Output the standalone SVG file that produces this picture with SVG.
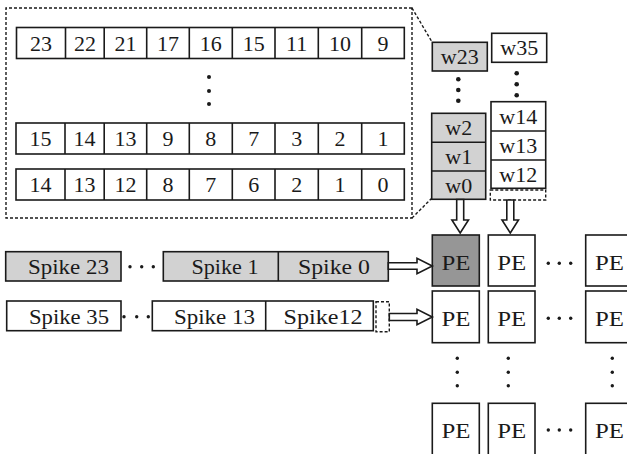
<svg xmlns="http://www.w3.org/2000/svg" width="627" height="454" viewBox="0 0 627 454" font-family="'Liberation Serif', 'DejaVu Serif', serif">
  <style>
    .box { stroke: #1a1a1a; stroke-width: 1.6; }
    .white { fill: #ffffff; }
    .light { fill: #d2d2d2; }
    .dark { fill: #969696; }
    .dash { fill: none; stroke: #1a1a1a; stroke-width: 1.4; stroke-dasharray: 3 2; }
    .div { stroke: #1a1a1a; stroke-width: 1.6; }
    .t { font-family: 'Liberation Serif', 'DejaVu Serif', serif; font-size: 22px; fill: #1a1a1a; text-anchor: middle; }
    .dot { fill: #1a1a1a; }
    .arrow { fill: #ffffff; stroke: #1a1a1a; stroke-width: 1.6; stroke-linejoin: miter; }
  </style>

  <!-- memory block holding the spike index rows -->
  <g id="memory">
    <path class="dash" d="M412,8 L6,8 L6,218 L412,218 Z"/>
    <path class="dash" d="M412,8 L432,42 M412,218 L432,198"/>
  </g>

  <g id="row-top">
    <rect class="box white" x="16.5" y="27.5" width="387.8" height="31"/>
    <path class="div" d="M65.5,27.5V58.5 M104.2,27.5V58.5 M146.7,27.5V58.5 M189.3,27.5V58.5 M232.3,27.5V58.5 M275,27.5V58.5 M318.3,27.5V58.5 M361.7,27.5V58.5"/>
    <text class="t" y="50.5"><tspan x="41">23</tspan><tspan x="84.9">22</tspan><tspan x="125.5">21</tspan><tspan x="168">17</tspan><tspan x="210.8">16</tspan><tspan x="253.7">15</tspan><tspan x="296.7">11</tspan><tspan x="340">10</tspan><tspan x="383">9</tspan></text>
  </g>

  <g id="row-dots">
    <circle class="dot" cx="209" cy="77" r="2"/>
    <circle class="dot" cx="209" cy="91" r="2"/>
    <circle class="dot" cx="209" cy="104" r="2"/>
  </g>

  <g id="row-mid">
    <rect class="box white" x="16" y="123" width="388.3" height="31"/>
    <path class="div" d="M65,123V154 M104.2,123V154 M146.7,123V154 M189.3,123V154 M232.3,123V154 M275,123V154 M318.3,123V154 M361.7,123V154"/>
    <text class="t" y="146"><tspan x="40.5">15</tspan><tspan x="84.6">14</tspan><tspan x="125.5">13</tspan><tspan x="168">9</tspan><tspan x="210.8">8</tspan><tspan x="253.7">7</tspan><tspan x="296.7">3</tspan><tspan x="340">2</tspan><tspan x="383">1</tspan></text>
  </g>

  <g id="row-bottom">
    <rect class="box white" x="16" y="169" width="388.3" height="31"/>
    <path class="div" d="M65,169V200 M104.2,169V200 M146.7,169V200 M189.3,169V200 M232.3,169V200 M275,169V200 M318.3,169V200 M361.7,169V200"/>
    <text class="t" y="192"><tspan x="40.5">14</tspan><tspan x="84.6">13</tspan><tspan x="125.5">12</tspan><tspan x="168">8</tspan><tspan x="210.8">7</tspan><tspan x="253.7">6</tspan><tspan x="296.7">2</tspan><tspan x="340">1</tspan><tspan x="383">0</tspan></text>
  </g>

  <!-- weight columns -->
  <g id="weights-col0">
    <rect class="box light" x="432.3" y="42.3" width="55" height="28.7"/>
    <text class="t" x="459.8" y="64">w23</text>
    <circle class="dot" cx="458.3" cy="79.3" r="2.3"/>
    <circle class="dot" cx="458.3" cy="90" r="2.3"/>
    <circle class="dot" cx="458.3" cy="100.7" r="2.3"/>
    <rect class="box light" x="431.7" y="113.3" width="54" height="86"/>
    <path class="div" d="M431.7,142.3H485.7 M431.7,171H485.7"/>
    <text class="t" x="458.7" y="135">w2</text>
    <text class="t" x="458.7" y="164">w1</text>
    <text class="t" x="458.7" y="192.5">w0</text>
  </g>

  <g id="weights-col1">
    <rect class="box white" x="491.7" y="33.3" width="55" height="29"/>
    <text class="t" x="519.2" y="55">w35</text>
    <circle class="dot" cx="516.7" cy="73.3" r="2.3"/>
    <circle class="dot" cx="516.7" cy="84.3" r="2.3"/>
    <circle class="dot" cx="516.7" cy="95.3" r="2.3"/>
    <rect class="box white" x="491" y="101.7" width="54.7" height="86.6"/>
    <path class="div" d="M491,131H545.7 M491,160H545.7"/>
    <text class="t" x="518.3" y="123.5">w14</text>
    <text class="t" x="518.3" y="152.5">w13</text>
    <text class="t" x="518.3" y="181.5">w12</text>
    <rect class="dash" x="490.3" y="190" width="55.4" height="10"/>
  </g>

  <!-- spike input queues -->
  <g id="spikes-row0">
    <rect class="box light" x="5.7" y="251.7" width="115.3" height="29.3"/>
    <text class="t" x="68.5" y="274" textLength="81" lengthAdjust="spacingAndGlyphs">Spike 23</text>
    <circle class="dot" cx="130" cy="266.7" r="1.7"/>
    <circle class="dot" cx="141.7" cy="266.7" r="1.7"/>
    <circle class="dot" cx="153.3" cy="266.7" r="1.7"/>
    <rect class="box light" x="163.3" y="251.7" width="225" height="29.3"/>
    <path class="div" d="M278.3,251.7V281"/>
    <text class="t" x="225" y="274" textLength="67" lengthAdjust="spacingAndGlyphs">Spike 1</text>
    <text class="t" x="334" y="274" textLength="72" lengthAdjust="spacingAndGlyphs">Spike 0</text>
  </g>

  <g id="spikes-row1">
    <rect class="box white" x="6.7" y="301" width="114.3" height="29.7"/>
    <text class="t" x="69" y="324" textLength="80" lengthAdjust="spacingAndGlyphs">Spike 35</text>
    <circle class="dot" cx="124" cy="316.7" r="1.7"/>
    <circle class="dot" cx="136.7" cy="316.7" r="1.7"/>
    <circle class="dot" cx="148.3" cy="316.7" r="1.7"/>
    <rect class="box white" x="152.3" y="301" width="221" height="29.7"/>
    <path class="div" d="M265.7,301V330.7"/>
    <text class="t" x="214.5" y="324" textLength="81" lengthAdjust="spacingAndGlyphs">Spike 13</text>
    <text class="t" x="323" y="324" textLength="79" lengthAdjust="spacingAndGlyphs">Spike12</text>
    <rect class="dash" x="376" y="301.7" width="13.3" height="30"/>
  </g>

  <!-- processing element array -->
  <g id="pe-grid">
    <rect class="box dark" x="432.3" y="235" width="47" height="51"/>
    <rect class="box white" x="488.3" y="235" width="46.7" height="51"/>
    <rect class="box white" x="585.7" y="235" width="47" height="51"/>
    <text class="t" x="456" y="270" textLength="29" lengthAdjust="spacingAndGlyphs">PE</text>
    <text class="t" x="511.7" y="270" textLength="29" lengthAdjust="spacingAndGlyphs">PE</text>
    <text class="t" x="609.5" y="270" textLength="29" lengthAdjust="spacingAndGlyphs">PE</text>
    <circle class="dot" cx="548.3" cy="263.3" r="1.7"/>
    <circle class="dot" cx="559.3" cy="263.3" r="1.7"/>
    <circle class="dot" cx="570.7" cy="263.3" r="1.7"/>

    <rect class="box white" x="432.3" y="291" width="47" height="51.7"/>
    <rect class="box white" x="488.3" y="291" width="46.7" height="51.7"/>
    <rect class="box white" x="585.7" y="291" width="47" height="51.7"/>
    <text class="t" x="456" y="326" textLength="29" lengthAdjust="spacingAndGlyphs">PE</text>
    <text class="t" x="511.7" y="326" textLength="29" lengthAdjust="spacingAndGlyphs">PE</text>
    <text class="t" x="609.5" y="326" textLength="29" lengthAdjust="spacingAndGlyphs">PE</text>
    <circle class="dot" cx="548.3" cy="318.3" r="1.7"/>
    <circle class="dot" cx="559.3" cy="318.3" r="1.7"/>
    <circle class="dot" cx="570.7" cy="318.3" r="1.7"/>

    <circle class="dot" cx="457.3" cy="358.3" r="1.7"/>
    <circle class="dot" cx="457.3" cy="372.3" r="1.7"/>
    <circle class="dot" cx="457.3" cy="385.7" r="1.7"/>
    <circle class="dot" cx="508.3" cy="358.3" r="1.7"/>
    <circle class="dot" cx="508.3" cy="372.3" r="1.7"/>
    <circle class="dot" cx="508.3" cy="385.7" r="1.7"/>
    <circle class="dot" cx="612.3" cy="358.3" r="1.7"/>
    <circle class="dot" cx="612.3" cy="372.3" r="1.7"/>
    <circle class="dot" cx="612.3" cy="385.7" r="1.7"/>

    <rect class="box white" x="432.3" y="403.3" width="47" height="52"/>
    <rect class="box white" x="488.3" y="403.3" width="46.7" height="52"/>
    <rect class="box white" x="585.7" y="403.3" width="47" height="52"/>
    <text class="t" x="456" y="437.5" textLength="29" lengthAdjust="spacingAndGlyphs">PE</text>
    <text class="t" x="511.7" y="437.5" textLength="29" lengthAdjust="spacingAndGlyphs">PE</text>
    <text class="t" x="609.5" y="437.5" textLength="29" lengthAdjust="spacingAndGlyphs">PE</text>
    <circle class="dot" cx="548.3" cy="430" r="1.7"/>
    <circle class="dot" cx="559.3" cy="430" r="1.7"/>
    <circle class="dot" cx="570.7" cy="430" r="1.7"/>
  </g>

  <!-- hollow block arrows feeding the PEs -->
  <g id="connectors">
    <polygon class="arrow" points="456.7,199.5 463.7,199.5 463.7,220 468.5,220 460.2,233 451.9,220 456.7,220"/>
    <polygon class="arrow" points="506.8,200 513.8,200 513.8,220 518.5,220 510.3,233 502,220 506.8,220"/>
    <polygon class="arrow" points="388.3,262.7 417,262.7 417,258.3 432.3,266 417,273.7 417,269.3 388.3,269.3"/>
    <polygon class="arrow" points="389.3,313.5 417,313.5 417,309.2 432.3,317 417,324.8 417,320.5 389.3,320.5"/>
  </g>
</svg>
